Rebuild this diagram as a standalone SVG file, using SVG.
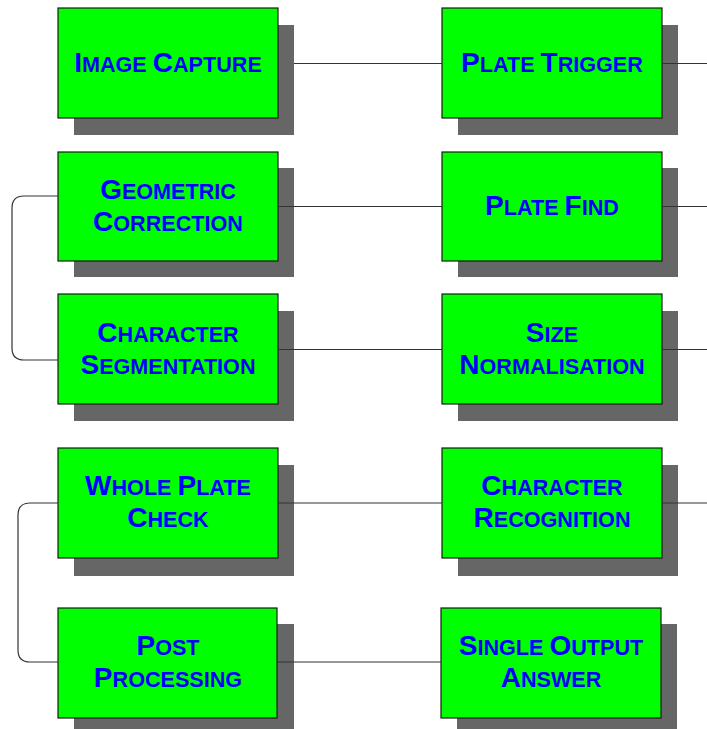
<svg xmlns="http://www.w3.org/2000/svg" width="707" height="729" viewBox="0 0 707 729">
<style>
.sh{fill:#666666}
.bx{fill:#00ff00;stroke:#1a1a1a;stroke-width:1.2}
.t{font-family:"Liberation Sans",Arial,sans-serif;font-weight:bold;font-size:21.6px;fill:#0000ff;text-anchor:middle}
.b{font-size:28px}
.c{fill:none;stroke:#333333;stroke-width:1.2}
</style>
<rect width="707" height="729" fill="#ffffff"/>
<g id="image-capture">
<rect class="sh" x="74" y="25" width="220" height="110"/>
<rect class="bx" x="58" y="8" width="220" height="110"/>
<text class="t" x="168" y="72"><tspan class="b">I</tspan>MAGE <tspan class="b">C</tspan>APTURE</text>
</g>
<g id="plate-trigger">
<rect class="sh" x="458" y="25" width="220" height="110"/>
<rect class="bx" x="442" y="8" width="220" height="110"/>
<text class="t" x="552" y="72"><tspan class="b">P</tspan>LATE <tspan class="b">T</tspan>RIGGER</text>
</g>
<g id="geometric-correction">
<rect class="sh" x="74" y="168" width="220" height="109"/>
<rect class="bx" x="58" y="152" width="220" height="109"/>
<text class="t" x="168" y="199"><tspan class="b">G</tspan>EOMETRIC</text>
<text class="t" x="168" y="231"><tspan class="b">C</tspan>ORRECTION</text>
</g>
<g id="plate-find">
<rect class="sh" x="458" y="168" width="220" height="109"/>
<rect class="bx" x="442" y="152" width="220" height="109"/>
<text class="t" x="552" y="215"><tspan class="b">P</tspan>LATE <tspan class="b">F</tspan>IND</text>
</g>
<g id="character-segmentation">
<rect class="sh" x="74" y="311" width="220" height="110"/>
<rect class="bx" x="58" y="294" width="220" height="110"/>
<text class="t" x="168" y="342"><tspan class="b">C</tspan>HARACTER</text>
<text class="t" x="168" y="374"><tspan class="b">S</tspan>EGMENTATION</text>
</g>
<g id="size-normalisation">
<rect class="sh" x="458" y="311" width="220" height="110"/>
<rect class="bx" x="442" y="294" width="220" height="110"/>
<text class="t" x="552" y="342"><tspan class="b">S</tspan>IZE</text>
<text class="t" x="552" y="374"><tspan class="b">N</tspan>ORMALISATION</text>
</g>
<g id="whole-plate-check">
<rect class="sh" x="74" y="465" width="220" height="111"/>
<rect class="bx" x="58" y="448" width="220" height="110"/>
<text class="t" x="168" y="495"><tspan class="b">W</tspan>HOLE <tspan class="b">P</tspan>LATE</text>
<text class="t" x="168" y="527"><tspan class="b">C</tspan>HECK</text>
</g>
<g id="character-recognition">
<rect class="sh" x="458" y="465" width="220" height="111"/>
<rect class="bx" x="442" y="448" width="220" height="110"/>
<text class="t" x="552" y="495"><tspan class="b">C</tspan>HARACTER</text>
<text class="t" x="552" y="527"><tspan class="b">R</tspan>ECOGNITION</text>
</g>
<g id="post-processing">
<rect class="sh" x="74" y="624" width="220" height="110"/>
<rect class="bx" x="58" y="608" width="219" height="110"/>
<text class="t" x="168" y="655"><tspan class="b">P</tspan>OST</text>
<text class="t" x="168" y="687"><tspan class="b">P</tspan>ROCESSING</text>
</g>
<g id="single-output-answer">
<rect class="sh" x="457" y="624" width="220" height="110"/>
<rect class="bx" x="441" y="608" width="220" height="110"/>
<text class="t" x="551" y="655"><tspan class="b">S</tspan>INGLE <tspan class="b">O</tspan>UTPUT</text>
<text class="t" x="551" y="687"><tspan class="b">A</tspan>NSWER</text>
</g>
<g id="connectors">
<path class="c" d="M294 63.5H442"/>
<path class="c" d="M662 63.5H707"/>
<path class="c" d="M278 206.5H442"/>
<path class="c" d="M662 206.5H707"/>
<path class="c" d="M58 196H24Q12 196 12 208V348Q12 360 24 360H58"/>
<path class="c" d="M278 349.5H442"/>
<path class="c" d="M662 349.5H707"/>
<path class="c" d="M278 503H442"/>
<path class="c" d="M662 503H707"/>
<path class="c" d="M58 503H30Q18 503 18 515V650Q18 662 30 662H58"/>
<path class="c" d="M277 662H441"/>
</g>
</svg>
